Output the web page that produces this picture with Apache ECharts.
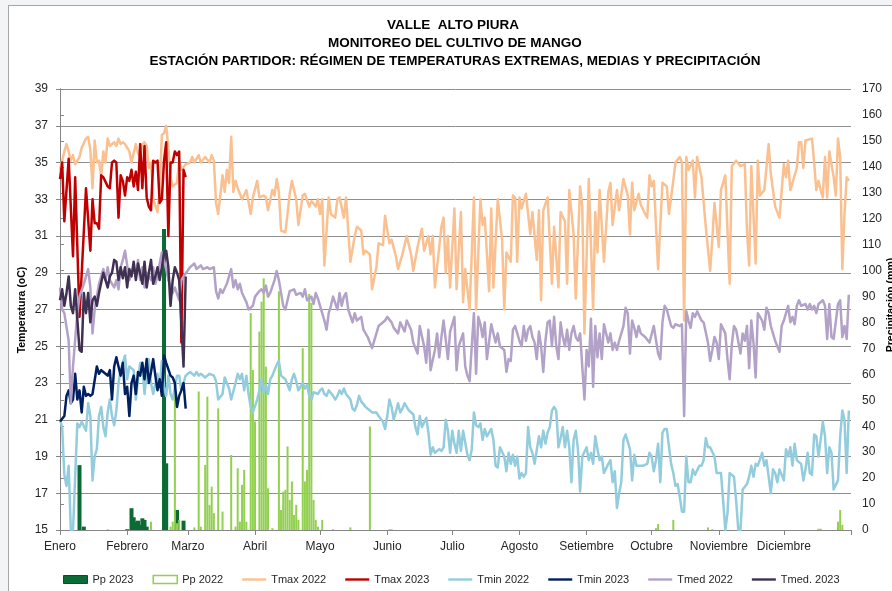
<!DOCTYPE html>
<html><head><meta charset="utf-8">
<script src="https://cdn.jsdelivr.net/npm/echarts@6/dist/echarts.min.js"></script>
<style>
html,body{margin:0;padding:0;background:#f3f4f6;}
#wrap{position:relative;width:892px;height:591px;overflow:hidden;}
#frame{position:absolute;left:8px;top:5px;width:900px;height:600px;background:#fff;border:1px solid #a6a6a6;box-sizing:border-box;}
#c{position:absolute;left:0;top:0;width:892px;height:591px;}
</style>
</head><body>
<div id="wrap"><div id="frame"></div><div id="c"></div></div>
<script>
const monthNames = ['Enero','Febrero','Marzo','Abril','Mayo','Junio','Julio','Agosto','Setiembre','Octubre','Noviembre','Diciembre'];
const monthStarts = [0,31,59,90,120,151,181,212,243,273,304,334];
const titleLines = ['VALLE  ALTO PIURA','MONITOREO DEL CULTIVO DE MANGO','ESTACIÓN PARTIDOR: RÉGIMEN DE TEMPERATURAS EXTREMAS, MEDIAS Y PRECIPITACIÓN'];
const seriesNames = ['Pp 2023','Pp 2022','Tmax 2022','Tmax 2023','Tmin 2022','Tmin 2023','Tmed 2022','Tmed. 2023'];

// [day of year, value]
const pp23 = [[9,25],[11,1.3],[31,0.3],[33,8.4],[34,4.9],[35,3.2],[36,3.6],[37,2.0],[38,4.5],[39,3.9],[40,1.3],[48,116],[49,25.7],[54,7.7],[57,3.6]];
const pp22 = [[22,0.3],[42,3.2],[51,1.3],[52,3.2],[53,58],[54,2.6],[55,3.9],[62,1.0],[64,53.4],[65,1.3],[67,25.1],[68,51.4],[69,9.7],[70,16.7],[71,6.5],[73,46.9],[75,7.1],[79,28.9],[81,1.3],[82,23.8],[83,3.2],[84,17.4],[85,23.2],[86,3.2],[88,83.6],[89,61.7],[90,41.8],[92,76.5],[93,88.0],[94,97.0],[95,63.0],[96,16.1],[98,0.7],[101,92.0],[102,7.7],[103,14.8],[104,15.5],[105,32.2],[106,11.6],[107,18.7],[108,5.8],[109,9.7],[110,3.9],[112,70.1],[113,18.7],[114,23.2],[115,91.0],[116,87.5],[117,11.6],[118,3.9],[119,1.3],[121,3.9],[126,0.3],[134,1.0],[143,39.9],[152,0.3],[153,0.3],[275,0.7],[276,2.3],[283,3.9],[299,1.0],[301,0.3],[350,0.5],[351,0.5],[359,3.2],[360,7.7],[361,2.0]];

const tmax22 = [[0,34.6],[2,35.6],[3,36.0],[4,35.6],[5,35.1],[6,35.4],[7,34.9],[9,35.3],[10,35.8],[12,36.3],[13,36.4],[14,35.7],[15,33.6],[16,36.2],[17,35.0],[18,35.1],[19,34.2],[20,35.6],[21,35.0],[22,36.3],[23,35.9],[25,36.1],[26,35.9],[27,36.3],[28,36.0],[29,36.1],[30,36.0],[32,35.6],[33,35.0],[35,36.0],[36,35.5],[37,35.3],[38,36.0],[39,36.1],[40,35.9],[41,34.7],[42,35.0],[43,33.0],[45,32.3],[46,33.5],[47,36.5],[48,36.6],[49,37.0],[50,35.8],[51,34.2],[52,33.7],[54,33.9],[55,35.1],[56,34.6],[58,34.9],[60,35.0],[61,35.3],[62,35.0],[64,35.4],[65,35.0],[67,35.3],[69,35.0],[70,35.4],[71,35.1],[72,32.8],[73,32.2],[75,34.3],[76,33.4],[77,34.6],[78,33.9],[79,36.4],[80,33.4],[81,34.0],[82,33.6],[84,33.0],[86,33.5],[88,32.2],[89,33.1],[91,34.0],[92,33.1],[94,33.2],[95,33.1],[96,32.4],[98,33.5],[99,33.2],[100,34.1],[101,33.4],[102,31.3],[104,31.2],[105,32.2],[106,33.3],[107,34.0],[109,33.0],[110,31.6],[112,33.2],[113,33.3],[115,32.6],[116,32.9],[118,32.6],[119,33.0],[120,32.2],[121,33.0],[122,29.4],[124,33.1],[125,32.2],[127,32.0],[128,33.0],[129,33.1],[131,32.0],[132,33.1],[133,31.3],[134,29.6],[136,31.0],[137,31.5],[139,31.3],[140,30.0],[141,30.2],[143,30.0],[144,28.1],[146,29.3],[147,30.6],[149,30.5],[150,32.1],[152,30.6],[153,30.8],[155,29.9],[156,29.2],[158,30.0],[160,31.0],[162,30.0],[163,29.1],[165,30.4],[167,31.4],[168,30.2],[170,31.0],[171,30.0],[172,31.0],[173,28.2],[175,30.4],[176,31.5],[177,32.0],[178,29.0],[179,31.0],[180,28.2],[182,32.5],[183,28.1],[185,32.3],[186,27.4],[187,29.2],[189,27.0],[191,33.1],[192,27.0],[194,33.0],[195,31.6],[196,32.0],[198,28.0],[199,32.5],[200,28.2],[202,33.0],[204,30.8],[205,27.0],[206,30.1],[208,29.6],[209,33.2],[210,33.1],[211,29.6],[212,33.1],[213,32.5],[215,33.3],[217,31.1],[218,32.3],[220,29.7],[221,32.4],[222,27.5],[223,32.4],[225,33.1],[227,28.4],[228,31.5],[230,28.2],[231,32.3],[233,31.8],[234,28.4],[235,33.5],[237,31.1],[238,27.6],[240,33.7],[241,32.6],[242,25.7],[244,34.1],[246,27.0],[247,32.3],[248,30.1],[249,33.5],[251,29.6],[253,33.4],[254,33.9],[255,31.6],[257,33.5],[258,32.4],[260,34.1],[262,33.2],[263,31.1],[264,33.9],[265,32.4],[267,33.3],[268,32.7],[270,32.2],[271,32.0],[272,34.3],[273,33.7],[274,34.0],[276,29.2],[278,33.9],[280,33.7],[281,32.2],[283,34.0],[284,35.0],[286,35.3],[287,35.0],[288,26.4],[289,35.3],[290,34.6],[292,35.1],[293,33.1],[294,35.3],[296,34.2],[298,31.5],[300,29.1],[301,30.8],[302,32.8],[304,30.4],[305,33.5],[307,34.3],[309,28.4],[310,34.8],[312,35.1],[314,34.8],[316,34.9],[317,31.3],[318,29.4],[319,34.8],[321,29.5],[322,35.1],[323,33.2],[325,33.5],[327,36.0],[328,34.4],[330,32.6],[332,32.0],[334,34.9],[335,34.2],[336,35.1],[337,33.5],[340,34.7],[341,36.1],[342,36.1],[343,34.7],[344,36.2],[347,36.3],[348,35.0],[349,33.5],[350,34.0],[351,33.5],[352,33.1],[353,35.3],[354,33.1],[355,35.6],[357,34.2],[358,33.2],[359,36.3],[360,35.3],[361,29.2],[362,32.2],[363,34.2],[364,34.0]];

const tmax23 = [[0,34.1],[1,35.0],[2,31.8],[4,35.2],[6,29.9],[7,34.2],[9,26.6],[12,33.6],[14,30.2],[15,33.0],[16,31.7],[17,31.7],[18,31.4],[19,34.3],[20,34.2],[22,33.7],[23,33.6],[24,35.0],[25,35.1],[26,35.0],[27,32.0],[28,34.3],[29,34.0],[30,33.2],[31,34.2],[32,34.0],[33,34.6],[34,33.7],[35,34.5],[36,33.5],[37,36.0],[38,33.6],[39,35.9],[40,33.1],[41,32.6],[42,32.4],[43,35.1],[44,35.0],[45,35.1],[46,32.8],[47,33.0],[48,35.1],[49,36.1],[50,31.0],[51,35.0],[52,35.0],[53,35.6],[54,35.4],[55,35.6],[56,25.2],[57,34.6],[58,34.2]];

const tmin22 = [[0,21.0],[1,20.6],[2,18.0],[3,17.4],[4,18.5],[5,15.0],[6,15.0],[8,20.8],[9,20.6],[10,20.9],[12,20.4],[13,21.9],[14,21.2],[15,17.7],[16,19.0],[17,19.4],[18,21.2],[19,21.7],[20,20.6],[21,20.1],[22,21.4],[23,22.1],[24,21.2],[25,20.7],[26,21.5],[27,23.0],[28,23.7],[29,24.1],[30,24.5],[31,23.2],[32,23.9],[34,23.7],[35,22.1],[36,23.2],[37,24.1],[38,23.9],[39,22.4],[40,23.6],[41,24.3],[42,23.0],[43,22.4],[45,23.5],[46,22.8],[47,24.2],[48,22.8],[49,22.3],[50,23.4],[51,22.4],[52,22.1],[54,23.4],[55,23.4],[56,22.6],[58,23.4],[60,23.6],[62,23.4],[63,23.6],[64,23.4],[65,23.5],[67,23.3],[68,23.4],[69,23.5],[71,23.4],[72,23.1],[73,22.1],[75,22.4],[76,23.3],[78,22.7],[79,22.1],[81,23.0],[82,23.5],[83,23.2],[84,23.5],[85,22.6],[86,23.4],[87,22.4],[88,21.7],[89,21.4],[91,22.1],[92,22.6],[93,23.2],[94,22.5],[95,22.9],[96,22.4],[97,23.2],[98,23.4],[99,23.7],[100,24.0],[101,24.2],[102,23.4],[104,23.2],[105,22.9],[106,22.6],[107,23.2],[108,23.5],[109,23.1],[110,22.6],[112,23.0],[113,22.7],[114,22.9],[115,22.3],[116,22.1],[117,22.5],[119,22.4],[120,22.6],[121,22.7],[122,22.4],[123,22.3],[124,22.6],[126,22.3],[127,22.1],[128,22.3],[129,22.6],[130,22.4],[131,22.7],[132,22.4],[134,22.1],[135,21.6],[136,21.5],[137,21.8],[138,22.3],[139,22.0],[141,21.7],[142,21.6],[143,21.5],[144,21.4],[146,21.4],[147,21.2],[149,20.9],[150,20.5],[151,21.2],[152,22.1],[153,21.7],[154,21.0],[156,21.9],[157,21.4],[158,21.6],[159,21.9],[160,21.7],[161,21.5],[163,21.3],[164,20.6],[165,20.2],[166,21.2],[167,20.6],[169,21.1],[170,20.3],[171,19.1],[172,19.5],[173,19.2],[175,19.4],[176,19.3],[177,19.5],[178,21.0],[179,20.4],[180,19.2],[181,20.4],[182,19.7],[183,19.2],[184,20.4],[185,19.3],[186,20.4],[188,19.1],[189,18.8],[190,19.4],[191,21.4],[192,20.7],[193,20.6],[194,20.8],[195,19.9],[196,20.5],[197,20.1],[199,20.5],[200,19.9],[201,18.5],[202,18.4],[203,19.5],[205,19.0],[206,18.2],[207,19.2],[208,18.6],[209,19.1],[210,18.5],[211,19.0],[212,17.8],[213,18.1],[214,17.9],[215,18.1],[216,20.6],[217,19.5],[218,19.2],[219,18.6],[221,20.1],[222,19.5],[223,20.4],[224,19.7],[225,20.3],[226,20.6],[227,21.5],[228,21.7],[229,21.5],[230,19.5],[231,20.0],[232,20.6],[233,19.5],[234,20.4],[235,19.5],[236,17.6],[237,19.9],[238,20.4],[239,19.4],[240,17.1],[241,19.0],[243,19.5],[244,18.8],[245,19.2],[246,18.6],[247,20.1],[248,19.4],[249,18.8],[250,19.0],[251,18.1],[253,18.6],[254,18.8],[255,17.6],[256,18.2],[257,16.2],[258,17.0],[259,17.6],[260,19.9],[261,20.2],[263,19.4],[264,17.7],[265,19.1],[266,18.5],[267,18.5],[268,18.5],[269,18.5],[271,18.6],[272,19.2],[273,19.0],[274,18.2],[275,18.8],[276,19.7],[277,17.6],[278,20.3],[279,20.5],[280,20.5],[282,18.6],[283,18.1],[284,17.4],[285,17.5],[286,16.8],[287,16.0],[288,16.0],[289,19.0],[290,17.6],[291,17.6],[292,18.3],[293,18.0],[295,18.5],[296,18.5],[297,18.8],[298,20.0],[299,19.5],[300,19.5],[302,19.0],[303,18.1],[304,18.1],[305,18.1],[306,16.6],[307,15.0],[308,15.9],[309,18.1],[310,18.0],[311,17.9],[312,16.6],[313,15.0],[314,15.0],[315,17.2],[317,17.5],[318,17.9],[319,18.5],[320,17.9],[321,18.6],[322,18.5],[324,19.2],[325,18.5],[326,18.8],[327,17.9],[328,17.0],[329,18.3],[330,18.1],[331,17.6],[332,18.3],[334,17.7],[335,19.4],[336,19.0],[337,19.5],[338,18.5],[339,19.7],[340,18.8],[342,18.6],[343,17.7],[344,18.3],[345,19.2],[346,18.1],[347,18.0],[348,20.2],[349,20.1],[350,19.0],[351,19.9],[352,20.9],[353,20.1],[354,18.1],[355,19.5],[356,19.2],[357,17.2],[359,17.7],[360,20.1],[361,21.5],[362,21.0],[363,18.1],[364,21.5]];

const tmin23 = [[0,20.9],[2,21.2],[3,22.3],[4,22.6],[5,21.9],[6,22.1],[7,23.5],[8,22.1],[9,22.6],[10,21.4],[11,22.8],[12,22.3],[13,22.4],[14,22.3],[15,22.4],[17,23.9],[18,23.5],[19,23.7],[20,23.6],[21,23.5],[22,23.4],[23,23.7],[24,22.1],[25,23.9],[26,24.4],[27,23.9],[28,23.4],[29,24.1],[30,22.4],[31,22.8],[32,21.2],[33,23.0],[34,23.4],[35,22.4],[36,23.6],[37,23.4],[38,24.1],[39,23.2],[40,24.3],[41,23.0],[42,23.6],[43,24.3],[44,23.4],[45,22.6],[46,23.2],[47,22.3],[48,24.5],[49,24.1],[51,23.4],[52,23.3],[53,23.0],[54,21.7],[55,22.3],[56,22.6],[57,23.0],[58,21.6]];

const tmed22 = [[0,28.2],[1,27.0],[2,26.8],[4,25.3],[5,21.9],[6,23.9],[8,26.8],[9,27.7],[11,28.4],[12,28.8],[13,29.2],[14,28.2],[15,25.7],[16,27.0],[17,27.7],[18,28.4],[20,29.2],[21,28.6],[22,29.3],[23,28.6],[25,28.2],[26,28.6],[27,28.1],[28,29.3],[29,29.7],[30,30.2],[31,29.4],[32,28.6],[34,29.3],[35,28.8],[36,29.7],[37,28.6],[38,29.3],[39,28.2],[40,29.0],[42,28.6],[43,29.3],[44,28.4],[45,28.8],[46,29.5],[47,30.1],[49,29.2],[50,28.6],[52,27.9],[53,28.2],[55,27.5],[56,28.6],[57,28.8],[60,29.3],[62,29.5],[63,29.2],[65,29.4],[66,29.2],[68,29.3],[69,29.2],[71,29.3],[72,28.0],[73,27.6],[74,28.1],[75,27.9],[77,28.4],[78,28.8],[79,29.2],[80,28.2],[81,28.6],[82,28.1],[83,28.4],[84,27.9],[86,27.4],[87,27.0],[89,27.2],[90,27.7],[92,28.0],[93,28.1],[94,27.9],[95,28.3],[96,27.7],[97,27.9],[99,28.6],[100,29.1],[101,28.6],[103,27.2],[104,27.0],[105,27.5],[106,28.0],[108,28.1],[109,27.8],[111,27.9],[112,27.7],[113,28.1],[114,27.5],[116,27.7],[117,27.3],[118,27.9],[119,27.6],[120,27.2],[122,26.4],[123,25.9],[124,26.8],[125,27.2],[126,27.7],[128,27.0],[129,27.9],[130,27.2],[131,27.7],[132,27.9],[133,27.0],[135,26.3],[136,26.8],[137,26.4],[139,26.6],[140,25.9],[142,25.5],[144,24.9],[146,25.7],[147,26.1],[150,26.4],[151,26.6],[153,26.3],[154,26.0],[156,25.7],[157,26.3],[159,25.8],[160,26.4],[162,25.9],[163,25.2],[165,24.6],[166,26.1],[168,25.0],[169,24.1],[170,25.9],[171,23.7],[173,24.8],[174,25.7],[175,24.4],[176,25.5],[177,26.4],[179,24.3],[180,25.8],[182,26.6],[183,23.7],[184,25.0],[186,25.7],[187,23.9],[188,23.4],[189,23.1],[190,25.0],[191,26.8],[192,23.5],[193,26.6],[194,26.2],[195,25.5],[196,26.3],[197,24.3],[199,26.2],[200,25.7],[201,25.2],[202,25.7],[203,25.0],[205,24.8],[206,23.6],[207,24.3],[208,24.2],[209,25.9],[210,26.1],[211,25.7],[212,25.3],[213,25.0],[214,26.1],[215,25.3],[216,25.9],[217,26.1],[218,25.5],[219,25.2],[220,24.3],[221,25.8],[222,25.0],[223,23.6],[224,25.3],[225,26.3],[226,26.4],[227,25.0],[228,26.6],[229,25.0],[230,24.3],[231,26.3],[232,25.5],[233,25.0],[234,25.9],[235,24.8],[236,25.7],[237,26.1],[238,25.5],[239,25.3],[240,25.7],[242,22.1],[243,24.8],[244,23.9],[245,26.5],[246,22.8],[247,26.1],[248,24.4],[249,25.7],[250,24.3],[251,26.2],[253,25.2],[254,25.7],[255,24.8],[256,25.2],[257,24.8],[258,25.3],[260,26.1],[261,27.1],[262,26.8],[263,24.6],[264,26.4],[265,26.0],[266,25.5],[267,26.1],[268,25.7],[270,25.5],[272,25.2],[274,26.1],[276,24.6],[277,24.3],[278,26.3],[279,27.2],[280,27.0],[282,26.1],[283,26.0],[284,26.2],[286,26.1],[287,26.2],[288,21.2],[289,26.9],[290,26.4],[291,26.0],[292,26.8],[293,26.6],[294,26.9],[296,26.4],[297,26.3],[299,25.2],[300,24.2],[301,24.8],[302,25.5],[303,25.2],[304,24.3],[305,26.2],[307,25.7],[308,24.3],[309,23.2],[310,25.1],[311,26.1],[312,25.9],[314,24.6],[315,25.7],[316,25.3],[317,26.1],[318,23.8],[319,26.4],[320,25.2],[321,23.3],[322,26.8],[324,26.4],[325,25.9],[326,27.1],[327,26.8],[328,26.1],[329,25.7],[330,25.3],[332,24.7],[333,26.1],[334,26.4],[336,27.2],[337,26.3],[338,26.6],[339,26.2],[340,27.2],[341,27.5],[342,27.2],[344,27.3],[345,27.0],[346,27.3],[347,27.0],[348,27.2],[349,26.8],[350,27.3],[352,27.5],[353,27.2],[354,25.4],[355,27.3],[356,25.5],[357,25.4],[359,27.3],[360,27.5],[361,25.5],[362,26.1],[363,25.4],[364,27.8]];

const tmed23 = [[0,27.5],[1,28.1],[2,27.2],[3,27.9],[4,28.8],[5,27.2],[6,26.8],[7,28.1],[9,24.8],[10,24.7],[11,27.9],[12,26.8],[13,27.9],[14,26.3],[15,27.5],[16,27.7],[17,27.2],[18,27.9],[20,29.0],[21,28.6],[22,28.2],[23,28.8],[24,29.0],[25,29.7],[26,29.6],[27,28.6],[28,29.3],[29,28.7],[30,29.3],[31,28.2],[32,29.2],[33,28.8],[34,29.6],[35,28.6],[36,29.5],[38,28.4],[39,29.6],[40,28.2],[41,29.0],[42,29.7],[43,28.4],[44,28.8],[45,29.3],[46,28.6],[47,29.3],[48,30.1],[49,30.2],[50,29.3],[51,27.2],[52,28.6],[53,29.3],[54,29.0],[55,28.6],[57,23.9],[58,28.8]];

const FONT = '"Liberation Sans", Arial, sans-serif';
const LINE_ICON = 'path://M0,0 L40,0 L40,4 L0,4 Z';
const chart = echarts.init(document.getElementById('c'), null, {renderer:'canvas'});

function lineSeries(name, data, color, width) {
  return {name, type:'line', data, xAxisIndex:0, yAxisIndex:0, showSymbol:false, symbol:'none',
    lineStyle:{color, width, join:'round'}, itemStyle:{color}, z:3, silent:true};
}

const option = {
  animation:false,
  backgroundColor:'transparent',
  grid:{left:60, right:41, top:89, bottom:61, containLabel:false},
  xAxis:[{
    type:'value', min:0, max:365,
    axisLine:{show:true, onZero:false, lineStyle:{color:'#868686', width:1}},
    axisTick:{show:true, customValues: monthStarts.concat([365]), length:5, lineStyle:{color:'#868686'}},
    axisLabel:{customValues: monthStarts, formatter: v => monthNames[monthStarts.indexOf(v)] || '', color:'#262626', fontSize:12, fontFamily:FONT, margin:11},
    splitLine:{show:false}
  },{
    type:'value', min:0, max:365, show:false
  }],
  yAxis:[{
    type:'value', min:15, max:39, interval:2, position:'left',
    axisLine:{show:true, lineStyle:{color:'#868686'}},
    axisTick:{show:true, length:4, lineStyle:{color:'#868686'}},
    axisLabel:{color:'#262626', fontSize:12, fontFamily:FONT, margin:12},
    splitLine:{show:true, lineStyle:{color:'#8f8f8f', width:1}}
  },{
    type:'value', min:0, max:170, interval:10, position:'right',
    axisLine:{show:true, lineStyle:{color:'#868686'}},
    axisTick:{show:true, length:4, lineStyle:{color:'#868686'}},
    axisLabel:{color:'#262626', fontSize:12, fontFamily:FONT, margin:11},
    splitLine:{show:false}
  }],
  legend:{
    left:58, top:569, itemWidth:24, itemHeight:8, itemGap:19,
    textStyle:{fontSize:11, fontFamily:FONT, color:'#262626'},
    data:[
      {name:'Pp 2023', icon:'rect', itemStyle:{color:'#0b6b35', borderColor:'#1f3864', borderWidth:1}},
      {name:'Pp 2022', icon:'rect', itemStyle:{color:'#ffffff', borderColor:'#92d050', borderWidth:1.5}},
      {name:'Tmax 2022', icon:LINE_ICON},
      {name:'Tmax 2023', icon:LINE_ICON},
      {name:'Tmin 2022', icon:LINE_ICON},
      {name:'Tmin 2023', icon:LINE_ICON},
      {name:'Tmed 2022', icon:LINE_ICON},
      {name:'Tmed. 2023', icon:LINE_ICON}
    ]
  },
  graphic:[
    {type:'text', x:453, y:25, style:{text:titleLines[0], align:'center', verticalAlign:'middle', font:'bold 13.5px '+FONT, fill:'#000'}},
    {type:'text', x:455, y:43, style:{text:titleLines[1], align:'center', verticalAlign:'middle', font:'bold 13.5px '+FONT, fill:'#000'}},
    {type:'text', x:455, y:61, style:{text:titleLines[2], align:'center', verticalAlign:'middle', font:'bold 13.5px '+FONT, fill:'#000'}},
    {type:'text', x:22, y:310, rotation:Math.PI/2, style:{text:'Temperatura (oC)', align:'center', verticalAlign:'middle', font:'bold 10.5px '+FONT, fill:'#000'}},
    {type:'text', x:891, y:305, rotation:Math.PI/2, style:{text:'Precipitación (mm)', align:'center', verticalAlign:'middle', font:'bold 10.5px '+FONT, fill:'#000'}}
  ],
  series:[
    {name:seriesNames[0], type:'bar', data:pp23, xAxisIndex:1, yAxisIndex:1, barWidth:4, itemStyle:{color:'#0b6b35'}, z:2, silent:true},
    {name:seriesNames[1], type:'bar', data:pp22, xAxisIndex:0, yAxisIndex:1, barWidth:2, itemStyle:{color:'#92d050'}, z:2, silent:true},
    lineSeries(seriesNames[2], tmax22, '#fac090', 2.5),
    lineSeries(seriesNames[3], tmax23, '#c00000', 2.5),
    lineSeries(seriesNames[4], tmin22, '#93cddd', 2.5),
    lineSeries(seriesNames[5], tmin23, '#002060', 2.5),
    lineSeries(seriesNames[6], tmed22, '#b3a2c7', 2.5),
    lineSeries(seriesNames[7], tmed23, '#403152', 2.5)
  ]
};
chart.setOption(option);
</script>
</body></html>
